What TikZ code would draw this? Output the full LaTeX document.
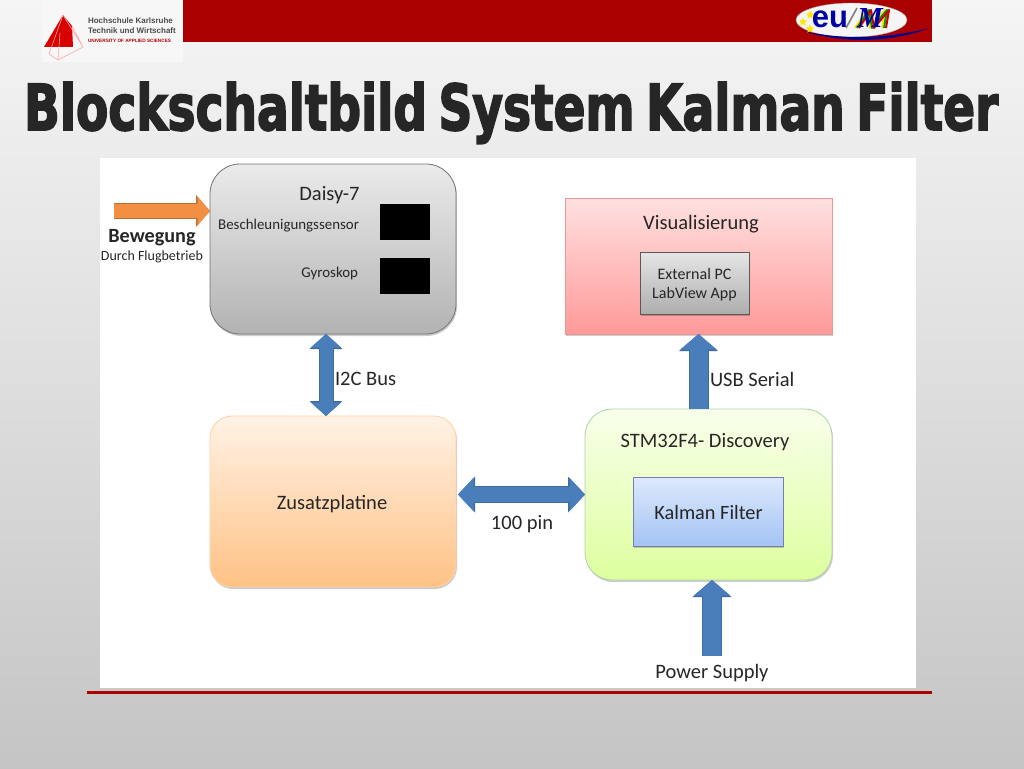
\documentclass[tikz,border=0pt]{standalone}
\usepackage{fontspec}
\setmainfont{Carlito}
\newfontfamily\titlefont[FakeBold=3,WordSpace=0.7]{DejaVu Sans Bold}
\newfontfamily\logofont{Liberation Sans}
\newfontfamily\eufont{Liberation Sans}
\newfontfamily\emfont{Liberation Serif}
\usetikzlibrary{arrows.meta,shadows,calc,shapes.geometric}
\definecolor{txt}{HTML}{262626}
\definecolor{hrot}{HTML}{AA0000}
\definecolor{arrowblue}{HTML}{4A7EBB}
\definecolor{arrowedge}{HTML}{3F6C9F}
\definecolor{arroworange}{HTML}{F28F43}
\definecolor{orangeedge}{HTML}{B9713A}
\tikzset{
  every node/.style={text=txt,inner sep=0pt,outer sep=0pt},
  softshadow/.style={drop shadow={shadow xshift=1pt,shadow yshift=-2pt,opacity=.2,fill=black}},
  box/.style={draw=#1,line width=.8pt,softshadow},
  blk/.style={box=#1,rounded corners=27pt},
  lbl/.style={font=\fontsize{20.5}{23}\selectfont,align=center},
  small/.style={font=\fontsize{14.9}{17}\selectfont},
  bigarrow/.style={
    preaction={draw=arrowedge,line width=20pt,-{Triangle[length=17pt,width=38pt,fill=arrowedge]}},
    draw=arrowblue,line width=18pt,
    -{Triangle[length=15.5pt,width=35.5pt,fill=arrowblue]}},
  bothway/.style={
    preaction={draw=arrowedge,line width=15pt,{Triangle[length=15pt,width=32pt,fill=arrowedge]}-{Triangle[length=15pt,width=32pt,fill=arrowedge]}},
    draw=arrowblue,line width=13pt,
    {Triangle[length=13.5pt,width=29.5pt,fill=arrowblue]}-{Triangle[length=13.5pt,width=29.5pt,fill=arrowblue]}},
  widebothway/.style={shorten <=2pt,
    preaction={draw=arrowedge,line width=17pt,{Triangle[length=17pt,width=35pt,fill=arrowedge]}-{Triangle[length=17pt,width=35pt,fill=arrowedge]}},
    draw=arrowblue,line width=15pt,
    {Triangle[length=15.5pt,width=32.5pt,fill=arrowblue]}-{Triangle[length=15.5pt,width=32.5pt,fill=arrowblue]}},
  orangearrow/.style={
    preaction={draw=orangeedge,line width=16pt,-{Triangle[length=14pt,width=31pt,fill=orangeedge]}},
    draw=arroworange,line width=14pt,
    -{Triangle[length=12.5pt,width=28.5pt,fill=arroworange]}},
  emstroke/.style={line width=2pt,line join=round}
}
\begin{document}
\begin{tikzpicture}[x=1pt,y=-1pt]
\useasboundingbox (0,0) rectangle (1024,768);
% slide background
\shade[top color=white!96!black,bottom color=white!77!black,middle color=white!87!black] (0,0) rectangle (1024,768);
% header
\fill[white!97!black] (42,0) rectangle (183,62);
\fill[hrot] (183,0) rectangle (932,42);
% Karlsruhe logo
\fill[red!85!black] (44,47) -- (63,15) -- (72,26) -- (73,47) -- cycle;
\draw[red!35,line width=.6pt] (63,15) -- (83,47) -- (58,60) -- (49,54) -- (63,15) (58,60) -- (60,33) (72,26) -- (83,47);
\node[anchor=west,align=left,font=\logofont\bfseries\fontsize{8}{9.4}\selectfont,text=black!70] (hs) at (88,25.5) {Hochschule Karlsruhe\\Technik und Wirtschaft};
\node[anchor=west,text=red!70!black,font=\logofont\bfseries\fontsize{4.7}{5}\selectfont] (uas) at (88,40.5) {UNIVERSITY OF APPLIED SCIENCES};
% eu logo
\fill[white!92!gray,draw=gray!70] (851.5,20) ellipse (55.5 and 17);
\fill[blue!55!black] (803,31) .. controls (850,42) and (900,36) .. (929,28) .. controls (900,40) and (850,46) .. (803,31) -- cycle;
\node[star,star points=5,star point ratio=2.2,fill=yellow!90!orange,minimum size=9pt] (s1) at (810,15) {};
\node[star,star points=5,star point ratio=2.2,fill=yellow!90!orange,minimum size=9pt] (s2) at (803,22) {};
\node[star,star points=5,star point ratio=2.2,fill=yellow!90!orange,minimum size=9pt] (s3) at (810,29) {};
\node[text=blue!65!black,font=\eufont\bfseries\fontsize{31}{31}\selectfont] (eu) at (830,19) {eu};
\draw[gray,line width=1.6pt] (846,28) -- (857,8);
\draw[emstroke,yellow!85!orange] (855,28) -- (867,10) -- (870,28) -- (885,10) -- (882,28);
\draw[emstroke,green!60!black] (857,28) -- (869,10) -- (872,28) -- (887,10) -- (884,28);
\draw[emstroke,red!80!black] (859,28) -- (871,10) -- (874,28) -- (889,10) -- (886,28);
\node[text=blue!65!black,font=\emfont\bfseries\itshape\fontsize{29}{29}\selectfont] (em) at (870,18) {M};
% title
\node[anchor=base west,text=txt] (title) at (24,130) {\resizebox{974pt}{48pt}{\titlefont Blockschaltbild System Kalman Filter}};
% white panel
\fill[white] (100,158) rectangle (916,688);
% footer rule
\fill[hrot] (87,690.5) rectangle (932,693.5);
% blocks
\node[blk=black!55,rounded corners=30pt,top color=white!92!black,bottom color=white!70!black,minimum width=246pt,minimum height=170pt] (daisy) at (333,249) {};
\node[blk=orange!35,rounded corners=22pt,top color=orange!10,bottom color=orange!48!white,minimum width=246pt,minimum height=171pt] (zus) at (333,501.5) {};
\node[box=red!40!white!85!gray,top color=red!12,bottom color=red!40,minimum width=267pt,minimum height=136pt] (vis) at (698.5,266) {};
\node[box=black!65,top color=white!90!black,bottom color=white!68!black,minimum width=109pt,minimum height=62pt] (pc) at (694.5,283) {};
\node[blk=green!30!gray!50!white,top color=green!30!yellow!8,bottom color=green!35!yellow!38,minimum width=247pt,minimum height=171pt] (stm) at (708.5,494.5) {};
\node[box=blue!30!gray!80!white,top color={rgb,255:red,221;green,233;blue,252},bottom color={rgb,255:red,164;green,195;blue,244},minimum width=150pt,minimum height=69pt] (kal) at (708,511.5) {};
\node[fill=black,minimum width=50pt,minimum height=36pt] (acc) at (405,222) {};
\node[fill=black,minimum width=50pt,minimum height=36pt] (gyr) at (405,276) {};
% labels
\node[lbl] (tdaisy) at (329.5,195) {Daisy-7};
\node[small,anchor=east] (tacc) at (359,226) {Beschleunigungssensor};
\node[small,anchor=east] (tgyr) at (358,273.5) {Gyroskop};
\node[lbl] (tvis) at (701,224) {Visualisierung};
\node[font=\fontsize{16}{19}\selectfont,align=center] (tpc) at (694.5,284.5) {External PC\\LabView App};
\node[lbl] (tstm) at (705,442) {STM32F4- Discovery};
\node[font=\fontsize{20.3}{23}\selectfont] (tkal) at (708.5,513) {Kalman Filter};
\node[lbl] (tzus) at (332,504) {Zusatzplatine};
\node[lbl,anchor=west] (ti2c) at (335,378.5) {I2C Bus};
\node[lbl,anchor=west] (tusb) at (710,379.5) {USB Serial};
\node[lbl] (tpin) at (522,524) {100 pin};
\node[lbl] (tpow) at (712,673.5) {Power Supply};
\node[font=\bfseries\fontsize{20.2}{23}\selectfont] (tbew) at (152,237.5) {Bewegung};
\node[font=\fontsize{14}{16}\selectfont] (tflug) at (152,257) {Durch Flugbetrieb};
% connectors
\coordinate (orangestart) at (114,211);
\coordinate (powerstart) at (712,656);
\coordinate (i2ct) at ($(daisy.south)+(-7,0)$);
\coordinate (i2cb) at ($(zus.north)+(-7,0)$);
\draw[orangearrow] (orangestart) -- (orangestart -| daisy.west);
\draw[bothway] (i2ct) -- (i2cb);
\draw[widebothway] (zus.east |- stm.west) -- (stm.west);
\draw[bigarrow] (vis.south |- stm.north) -- (vis.south);
\draw[bigarrow] (powerstart) -- (powerstart |- stm.south);
\end{tikzpicture}
\end{document}
